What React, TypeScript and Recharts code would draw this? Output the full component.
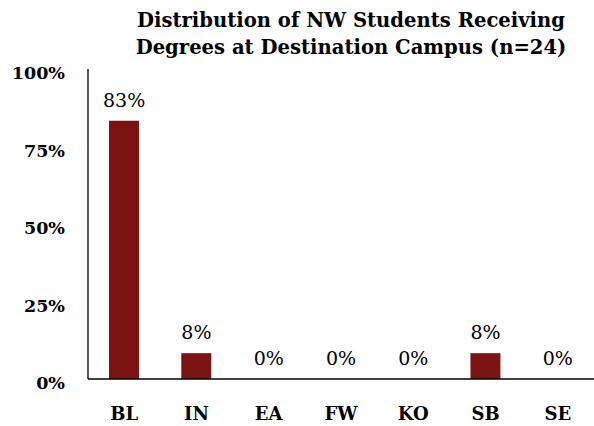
import { ComposedChart, Bar, Line, XAxis, YAxis, LabelList } from "recharts";

const campuses = ["BL", "IN", "EA", "FW", "KO", "SB", "SE"];
const shares = [83.33, 8.33, 0, 0, 0, 8.33, 0];
const yTicks = [0, 25, 50, 75, 100];
const titleLines = [
  "Distribution of NW Students Receiving",
  "Degrees at Destination Campus (n=24)",
];

const FONT = "'DejaVu Serif', serif";
const BAR_COLOR = "#7B1312";

export default function App() {
  const data = campuses.map((campus, i) => ({ campus, share: shares[i] }));

  return (
    <div style={{ position: "absolute", left: 0, top: 0, width: 594, height: 426, background: "#fff" }}>
      <div
        style={{
          position: "absolute",
          left: 101,
          top: 7,
          width: 500,
          textAlign: "center",
          fontFamily: FONT,
          fontWeight: "bold",
          fontSize: 19.6,
          lineHeight: "27px",
          color: "#000",
          whiteSpace: "nowrap",
        }}
      >
        {titleLines.map((line) => (
          <div key={line}>{line}</div>
        ))}
      </div>
      <ComposedChart
        width={594}
        height={426}
        data={data}
        margin={{ top: 69, right: 0, left: 28, bottom: 7 }}
        barCategoryGap={0}
      >
        <XAxis
          dataKey="campus"
          height={40}
          axisLine={{ stroke: "#000", strokeWidth: 1.3 }}
          tickLine={false}
          tickSize={0}
          tickMargin={28}
          tick={{ fill: "#000", fontSize: 18, fontWeight: "bold", fontFamily: FONT }}
        />
        <YAxis
          width={60}
          domain={[0, 100]}
          ticks={yTicks}
          interval={0}
          axisLine={{ stroke: "#000", strokeWidth: 1.3 }}
          tickLine={false}
          tickSize={0}
          tickMargin={23}
          tickFormatter={(v: number) => `${v}%`}
          tick={{ fill: "#000", fontSize: 17.5, fontWeight: "bold", fontFamily: FONT, dy: 4 }}
        />
        <Bar dataKey="share" fill={BAR_COLOR} barSize={30} isAnimationActive={false} />
        {/* invisible series only to carry the value labels, so 0% also gets one */}
        <Line
          dataKey="share"
          stroke="none"
          dot={false}
          activeDot={false}
          legendType="none"
          isAnimationActive={false}
        >
          <LabelList
            dataKey="share"
            position="top"
            offset={14}
            formatter={(v: number) => `${Math.round(v)}%`}
            style={{ fill: "#000", fontSize: 19, fontFamily: FONT }}
          />
        </Line>
      </ComposedChart>
    </div>
  );
}
